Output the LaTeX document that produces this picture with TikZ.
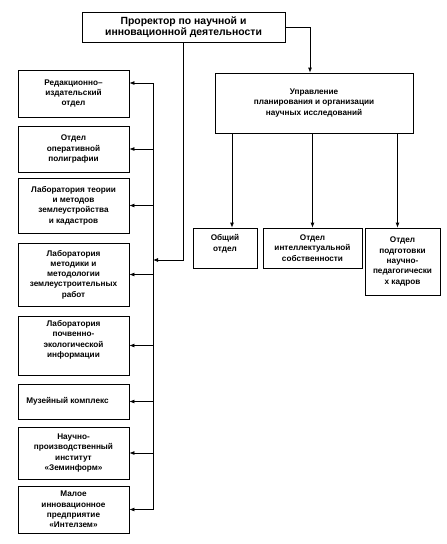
\documentclass[tikz,border=0pt]{standalone}
\usepackage{fontspec}
\setmainfont{Liberation Sans}
\usetikzlibrary{arrows.meta}

\begin{document}
\begin{tikzpicture}[x=1pt,y=-1pt,
	box/.style={draw,line width=0.8pt,align=center,inner sep=1pt,font=\fontsize{8.2}{10.3}\selectfont\bfseries},
	arr/.style={line width=0.8pt,-{Latex[length=5pt,width=4pt]}}]
	\fill[white] (0,0) rectangle (447,544);
	\node[box,minimum width=203pt,minimum height=30pt,font=\fontsize{10.4}{11}\selectfont\bfseries] (prorector) at (183.5,27) {Проректор по научной и\\инновационной деятельности};
	\node[box,minimum width=198pt,minimum height=60pt] (upr) at (314,103) {Управление\\планирования и организации\\научных исследований};
	\node[box,minimum width=64pt,minimum height=40pt] (obsh) at (225,248) {Общий\\отдел\\~};
	\node[box,minimum width=99pt,minimum height=40pt] (intel) at (312.5,248) {Отдел\\интеллектуальной\\собственности};
	\node[box,minimum width=75pt,minimum height=67pt] (podg) at (402.5,261.5) {Отдел\\подготовки\\научно-\\педагогически\\х кадров};
	\node[box,minimum width=111pt,minimum height=47pt] (red) at (73.5,93.5) {Редакционно–\\издательский\\отдел};
	\node[box,minimum width=111pt,minimum height=46pt] (poli) at (73.5,149) {Отдел\\оперативной\\полиграфии};
	\node[box,minimum width=111pt,minimum height=55pt] (kad) at (73.5,205.5) {Лаборатория теории\\и методов\\землеустройства\\и кадастров};
	\node[box,minimum width=111pt,minimum height=63pt] (metod) at (73.5,274.5) {Лаборатория\\методики и\\методологии\\землеустроительных\\работ};
	\node[box,minimum width=111pt,minimum height=59pt] (pochv) at (73.5,345.5) {Лаборатория\\почвенно-\\экологической\\информации\\[3pt]};
	\node[box,minimum width=111pt,minimum height=35pt] (muz) at (73.5,401.5) {Музейный комплекс\hspace{12pt}};
	\node[box,minimum width=111pt,minimum height=52pt] (zem) at (73.5,453) {Научно-\\производственный\\институт\\«Земинформ»};
	\node[box,minimum width=111pt,minimum height=47pt] (intz) at (73.5,509.5) {Малое\\инновационное\\предприятие\\«Интелзем»};
	\coordinate (bus) at (153,0);
	\coordinate (join) at (153,260);
	\coordinate (redin) at ([yshift=10.5pt]red.east);
	\draw[line width=0.8pt] (bus |- redin) -- (bus |- intz.east);
	\draw[arr] (prorector.south) |- (join);
	\draw[arr] (prorector.east) -| ([xshift=-4pt]upr.north);
	\draw[arr] (bus |- redin) -- (redin);
	\draw[arr] (bus |- poli.east) -- (poli.east);
	\draw[arr] (bus |- kad.east) -- (kad.east);
	\draw[arr] (bus |- metod.east) -- (metod.east);
	\draw[arr] (bus |- pochv.east) -- (pochv.east);
	\draw[arr] (bus |- muz.east) -- (muz.east);
	\draw[arr] (bus |- zem.east) -- (zem.east);
	\draw[arr] (bus |- intz.east) -- (intz.east);
	\draw[arr] ([xshift=7pt]upr.south -| obsh.north) -- ([xshift=7pt]obsh.north);
	\draw[arr] (upr.south -| intel.north) -- (intel.north);
	\draw[arr] ([xshift=-5pt]upr.south -| podg.north) -- ([xshift=-5pt]podg.north);
\end{tikzpicture}
\end{document}
